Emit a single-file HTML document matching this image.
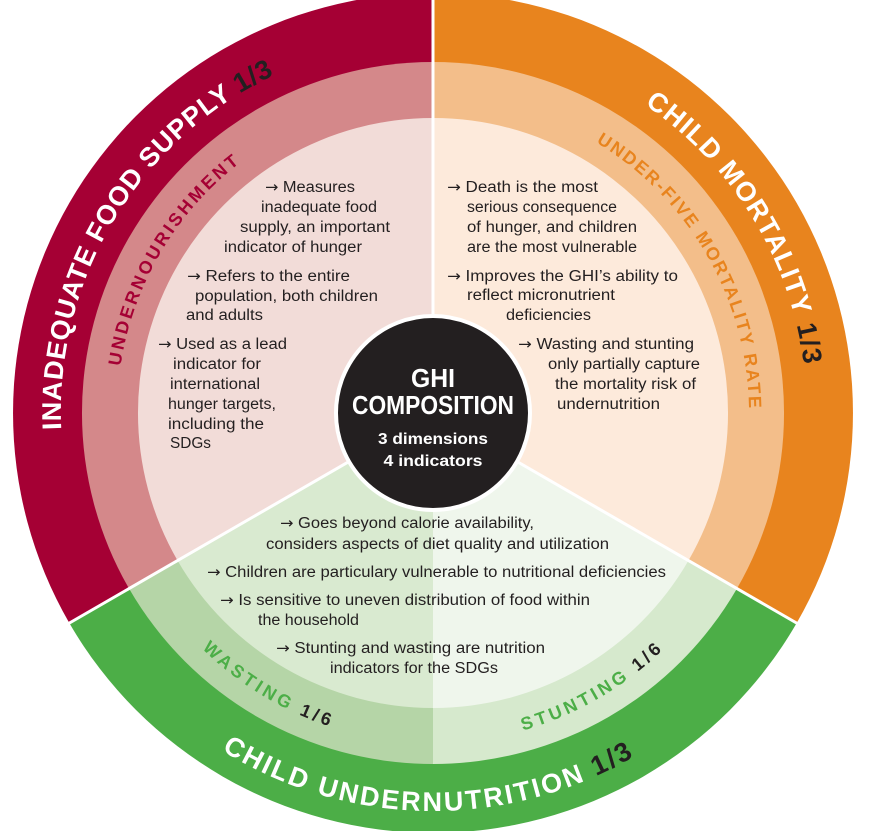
<!DOCTYPE html>
<html><head><meta charset="utf-8"><style>
html,body{margin:0;padding:0;background:#fff;}
svg{display:block;}
.b{font-family:"Liberation Sans",sans-serif;font-size:15.5px;fill:#231f20;}
.a{font-family:"DejaVu Sans",sans-serif;font-size:15px;}
.o{font-family:"Liberation Sans",sans-serif;font-weight:bold;font-size:27px;fill:#fff;}
.m{font-family:"Liberation Sans",sans-serif;font-weight:bold;font-size:18px;}
</style></head><body>
<svg width="877" height="831" viewBox="0 0 877 831" xmlns="http://www.w3.org/2000/svg">
<defs>
<path id="pTL" d="M62.4,445.4 A373,373 0 0 1 465.4,40.4"/>
<path id="pTR" d="M560.2,61.4 A373,373 0 0 1 801.3,477.6"/>
<path id="pB" d="M177.2,717.9 A398,398 0 0 0 688.8,717.9"/>
<path id="mTL" d="M117,413 A316,316 0 0 1 433,97"/>
<path id="mTR" d="M541.1,116.1 A316,316 0 0 1 744.2,467.9"/>
<path id="mBL" d="M180.2,625.1 A330,330 0 0 0 433,743"/>
<path id="mBR" d="M433,743 A330,330 0 0 0 685.8,625.1"/>
</defs>
<path d="M433,413 L69.3,623 A420,420 0 0 1 433,-7 Z" fill="#a50034"/>
<path d="M433,413 L433,-7 A420,420 0 0 1 796.7,623 Z" fill="#e8841e"/>
<path d="M433,413 L796.7,623 A420,420 0 0 1 69.3,623 Z" fill="#4cae47"/>
<path d="M433,413 L129,588.5 A351,351 0 0 1 433,62 Z" fill="#d4888a"/>
<path d="M433,413 L433,62 A351,351 0 0 1 737,588.5 Z" fill="#f3be8a"/>
<path d="M433,413 L737,588.5 A351,351 0 0 1 433,764 Z" fill="#d6e9cd"/>
<path d="M433,413 L433,764 A351,351 0 0 1 129,588.5 Z" fill="#b5d5a7"/>
<path d="M433,413 L177.5,560.5 A295,295 0 0 1 433,118 Z" fill="#f2dcd8"/>
<path d="M433,413 L433,118 A295,295 0 0 1 688.5,560.5 Z" fill="#fdeadb"/>
<path d="M433,413 L688.5,560.5 A295,295 0 0 1 433,708 Z" fill="#eff6ec"/>
<path d="M433,413 L433,708 A295,295 0 0 1 177.5,560.5 Z" fill="#d9ead0"/>
<g stroke="#fff" stroke-width="3">
<line x1="433" y1="413" x2="433" y2="-10"/>
<line x1="433" y1="413" x2="66" y2="625"/>
<line x1="433" y1="413" x2="800" y2="625"/>
</g>
<text class="o"><textPath href="#pTL" startOffset="16" textLength="438" lengthAdjust="spacing">INADEQUATE FOOD SUPPLY <tspan fill="#231f20">1/3</tspan></textPath></text>
<text class="o"><textPath href="#pTR" startOffset="95" textLength="314" lengthAdjust="spacing">CHILD MORTALITY <tspan fill="#231f20">1/3</tspan></textPath></text>
<text class="o"><textPath href="#pB" startOffset="55" textLength="433" lengthAdjust="spacing">CHILD UNDERNUTRITION <tspan fill="#231f20">1/3</tspan></textPath></text>
<text class="m" fill="#a50034"><textPath href="#mTL" startOffset="47" textLength="241" lengthAdjust="spacing">UNDERNOURISHMENT</textPath></text>
<text class="m" fill="#e8841e"><textPath href="#mTR" startOffset="61" textLength="320" lengthAdjust="spacing">UNDER-FIVE MORTALITY RATE</textPath></text>
<text class="m" fill="#4cae47"><textPath href="#mBL" startOffset="32" textLength="150" lengthAdjust="spacing">WASTING <tspan fill="#231f20">1/6</tspan></textPath></text>
<text class="m" fill="#4cae47"><textPath href="#mBR" startOffset="91" textLength="162" lengthAdjust="spacing">STUNTING <tspan fill="#231f20">1/6</tspan></textPath></text>
<g class="b">
<text x="265" y="192" textLength="90" lengthAdjust="spacingAndGlyphs"><tspan class="a">→</tspan> Measures</text>
<text x="261" y="212" textLength="116" lengthAdjust="spacingAndGlyphs">inadequate food</text>
<text x="240" y="232" textLength="150" lengthAdjust="spacingAndGlyphs">supply, an important</text>
<text x="224" y="252" textLength="138" lengthAdjust="spacingAndGlyphs">indicator of hunger</text>
<text x="187" y="281" textLength="163" lengthAdjust="spacingAndGlyphs"><tspan class="a">→</tspan> Refers to the entire</text>
<text x="195" y="301" textLength="183" lengthAdjust="spacingAndGlyphs">population, both children</text>
<text x="186" y="320" textLength="77" lengthAdjust="spacingAndGlyphs">and adults</text>
<text x="158" y="349" textLength="129" lengthAdjust="spacingAndGlyphs"><tspan class="a">→</tspan> Used as a lead</text>
<text x="173" y="369" textLength="88" lengthAdjust="spacingAndGlyphs">indicator for</text>
<text x="170" y="389" textLength="90" lengthAdjust="spacingAndGlyphs">international</text>
<text x="168" y="409" textLength="108" lengthAdjust="spacingAndGlyphs">hunger targets,</text>
<text x="168" y="429" textLength="96" lengthAdjust="spacingAndGlyphs">including the</text>
<text x="170" y="448" textLength="41" lengthAdjust="spacingAndGlyphs">SDGs</text>
<text x="447" y="192" textLength="151" lengthAdjust="spacingAndGlyphs"><tspan class="a">→</tspan> Death is the most</text>
<text x="467" y="212" textLength="150" lengthAdjust="spacingAndGlyphs">serious consequence</text>
<text x="467" y="232" textLength="170" lengthAdjust="spacingAndGlyphs">of hunger, and children</text>
<text x="467" y="252" textLength="170" lengthAdjust="spacingAndGlyphs">are the most vulnerable</text>
<text x="447" y="281" textLength="231" lengthAdjust="spacingAndGlyphs"><tspan class="a">→</tspan> Improves the GHI’s ability to</text>
<text x="467" y="300" textLength="148" lengthAdjust="spacingAndGlyphs">reflect micronutrient</text>
<text x="506" y="320" textLength="85" lengthAdjust="spacingAndGlyphs">deficiencies</text>
<text x="518" y="349" textLength="176" lengthAdjust="spacingAndGlyphs"><tspan class="a">→</tspan> Wasting and stunting</text>
<text x="548" y="369" textLength="152" lengthAdjust="spacingAndGlyphs">only partially capture</text>
<text x="555" y="389" textLength="141" lengthAdjust="spacingAndGlyphs">the mortality risk of</text>
<text x="557" y="409" textLength="103" lengthAdjust="spacingAndGlyphs">undernutrition</text>
<text x="280" y="528" textLength="254" lengthAdjust="spacingAndGlyphs"><tspan class="a">→</tspan> Goes beyond calorie availability,</text>
<text x="266" y="549" textLength="343" lengthAdjust="spacingAndGlyphs">considers aspects of diet quality and utilization</text>
<text x="207" y="577" textLength="459" lengthAdjust="spacingAndGlyphs"><tspan class="a">→</tspan> Children are particulary vulnerable to nutritional deficiencies</text>
<text x="220" y="605" textLength="370" lengthAdjust="spacingAndGlyphs"><tspan class="a">→</tspan> Is sensitive to uneven distribution of food within</text>
<text x="258" y="625" textLength="101" lengthAdjust="spacingAndGlyphs">the household</text>
<text x="276" y="653" textLength="269" lengthAdjust="spacingAndGlyphs"><tspan class="a">→</tspan> Stunting and wasting are nutrition</text>
<text x="330" y="673" textLength="168" lengthAdjust="spacingAndGlyphs">indicators for the SDGs</text>
</g>
<circle cx="433" cy="413" r="97" fill="#231f20" stroke="#fff" stroke-width="4"/>
<g font-family="Liberation Sans, sans-serif" font-weight="bold" fill="#fff" text-anchor="middle">
<text x="433" y="387" font-size="26" textLength="44" lengthAdjust="spacingAndGlyphs">GHI</text>
<text x="433" y="414" font-size="26" textLength="162" lengthAdjust="spacingAndGlyphs">COMPOSITION</text>
<text x="433" y="444" font-size="16" textLength="110" lengthAdjust="spacingAndGlyphs">3 dimensions</text>
<text x="433" y="466" font-size="16" textLength="99" lengthAdjust="spacingAndGlyphs">4 indicators</text>
</g>
</svg>
</body></html>
